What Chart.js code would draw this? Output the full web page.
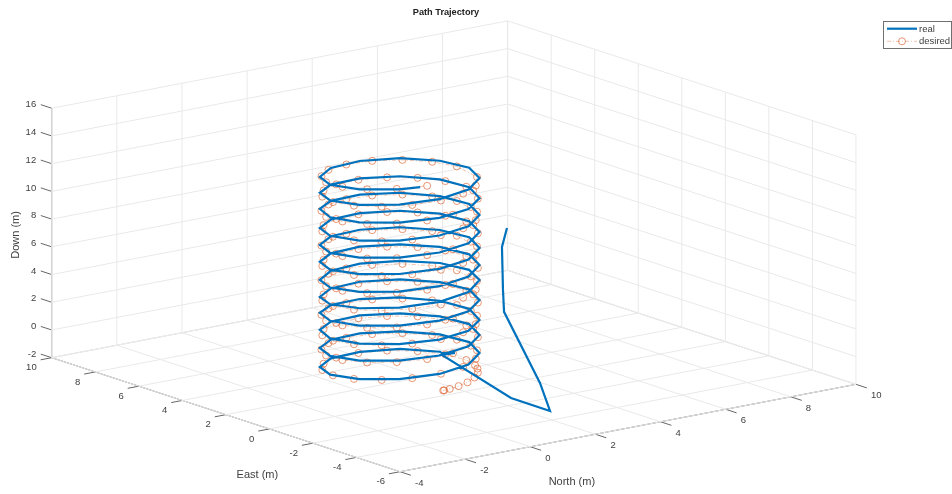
<!DOCTYPE html>
<html>
<head>
<meta charset="utf-8">
<style>html,body{margin:0;padding:0;background:#fff}canvas{display:block}</style>
<script src="https://cdn.jsdelivr.net/npm/chart.js@4/dist/chart.umd.min.js"></script>
</head>
<body>
<canvas id="c" width="952" height="494"></canvas>
<script>
const northTicks = [-4,-2,0,2,4,6,8,10];
const eastTicks = [-6,-4,-2,0,2,4,6,8,10];
const downTicks = [-2,0,2,4,6,8,10,12,14,16];

const realNorth = [1.29,1.136,1.167,1.2,0.966,0.86,0.625,1.014,1.30,1.0,
 1.83,1.14,0.14,-0.89,-1.69,
 -2.04,-1.83,-1.14,-0.14,0.89,1.69, 2.04,1.83,1.14,0.14,-0.89,-1.69,
 -2.04,-1.83,-1.14,-0.14,0.89,1.69, 2.04,1.83,1.14,0.14,-0.89,-1.69,
 -2.04,-1.83,-1.14,-0.14,0.89,1.69, 2.04,1.83,1.14,0.14,-0.89,-1.69,
 -2.04,-1.83,-1.14,-0.14,0.89,1.69, 2.04,1.83,1.14,0.14,-0.89,-1.69,
 -2.04,-1.83,-1.14,-0.14,0.89,1.69, 2.04,1.83,1.14,0.14,-0.89,-1.69,
 -2.04,-1.83,-1.14,-0.14,0.89,1.69, 2.04,1.83,1.14,0.14,-0.89,-1.69,
 -2.04,-1.83,-1.14,-0.14,0.89,1.69, 2.04,1.83,1.14,0.14,-0.89,-1.69,
 -2.04,-1.83,-1.14,-0.14,0.89,1.69, 2.04,1.83,1.14,0.14,-0.89,-1.69,
 -2.04,-1.83,-1.14,-0.14,0.89,1.69, 2.04,1.83,1.14,0.14,-0.89,-1.69,
 -2.04,-1.83,-1.14,-0.14,0.89,1.69, 2.04,1.83,1.14,0.14,-0.89,-1.69,
 -2.04,-1.83,-1.14,-0.14,0.89,1.69, 2.04,1.83,1.14,0.14,-0.89,-1.69,
 -2.04,-1.83,-1.14,-0.66];
const realEast = [-3,-3,-3,-3,-5,-5.62,-4.18,-0.425,-0.59,-0.44,
 0.89,1.69,2.04,1.83,1.14,
 0.14,-0.89,-1.69,-2.04,-1.83,-1.14, -0.14,0.89,1.69,2.04,1.83,1.14,
 0.14,-0.89,-1.69,-2.04,-1.83,-1.14, -0.14,0.89,1.69,2.04,1.83,1.14,
 0.14,-0.89,-1.69,-2.04,-1.83,-1.14, -0.14,0.89,1.69,2.04,1.83,1.14,
 0.14,-0.89,-1.69,-2.04,-1.83,-1.14, -0.14,0.89,1.69,2.04,1.83,1.14,
 0.14,-0.89,-1.69,-2.04,-1.83,-1.14, -0.14,0.89,1.69,2.04,1.83,1.14,
 0.14,-0.89,-1.69,-2.04,-1.83,-1.14, -0.14,0.89,1.69,2.04,1.83,1.14,
 0.14,-0.89,-1.69,-2.04,-1.83,-1.14, -0.14,0.89,1.69,2.04,1.83,1.14,
 0.14,-0.89,-1.69,-2.04,-1.83,-1.14, -0.14,0.89,1.69,2.04,1.83,1.14,
 0.14,-0.89,-1.69,-2.04,-1.83,-1.14, -0.14,0.89,1.69,2.04,1.83,1.14,
 0.14,-0.89,-1.69,-2.04,-1.83,-1.14, -0.14,0.89,1.69,2.04,1.83,1.14,
 0.14,-0.89,-1.69,-2.04,-1.83,-1.14, -0.14,0.89,1.69,2.04,1.83,1.14,
 0.14,-0.89,-1.69,-1.93];
const realDown = [11.66,10.36,7.25,5.65,1.65,0,0.3,1.3,1.4,1.45,
 0.49,0.6,0.65,0.75,0.85,
 0.96,1.07,1.18,1.28,1.39,1.50, 1.62,1.74,1.86,1.98,2.10,2.22,
 2.32,2.41,2.51,2.61,2.70,2.80, 2.92,3.04,3.16,3.28,3.40,3.52,
 3.58,3.64,3.70,3.76,3.82,3.88, 4.02,4.17,4.31,4.46,4.60,4.75,
 4.85,4.94,5.04,5.13,5.23,5.32, 5.42,5.51,5.61,5.71,5.80,5.90,
 6.04,6.19,6.33,6.48,6.62,6.77, 6.83,6.89,6.95,7.01,7.07,7.13,
 7.25,7.37,7.49,7.61,7.73,7.85, 7.95,8.05,8.14,8.24,8.33,8.43,
 8.54,8.65,8.76,8.86,8.97,9.08, 9.18,9.27,9.37,9.46,9.56,9.65,
 9.75,9.84,9.94,10.04,10.13,10.23, 10.34,10.45,10.56,10.66,10.77,10.88,
 10.98,11.07,11.17,11.27,11.36,11.46, 11.59,11.72,11.86,11.99,12.12,12.25,
 12.32,12.39,12.47,12.54,12.61,12.68, 12.80,12.92,13.05,13.17,13.29,13.41,
 13.53,13.65,13.77,13.89,14.01,14.13, 14.20,14.27,14.35,14.42,14.49,14.56,
 14.66,14.76,14.86,14.93];

const desiredNorth = [0,0.03,0.21,0.52,0.88,1.26,1.58,1.78,1.90,
 2.00,1.87,1.46,0.83,0.07,-0.70,-1.36,-1.82,-2.00,-1.87,-1.46,-0.83,-0.07,0.70,1.36,1.82,
 1.97,1.70,1.17,0.46,-0.32,-1.05,-1.62,-1.95,-1.97,-1.70,-1.17,-0.46,0.32,1.05,1.62,1.95,
 2.00,1.87,1.46,0.83,0.07,-0.70,-1.36,-1.82,-2.00,-1.87,-1.46,-0.83,-0.07,0.70,1.36,1.82,
 1.97,1.70,1.17,0.46,-0.32,-1.05,-1.62,-1.95,-1.97,-1.70,-1.17,-0.46,0.32,1.05,1.62,1.95,
 2.00,1.87,1.46,0.83,0.07,-0.70,-1.36,-1.82,-2.00,-1.87,-1.46,-0.83,-0.07,0.70,1.36,1.82,
 1.97,1.70,1.17,0.46,-0.32,-1.05,-1.62,-1.95,-1.97,-1.70,-1.17,-0.46,0.32,1.05,1.62,1.95,
 2.00,1.87,1.46,0.83,0.07,-0.70,-1.36,-1.82,-2.00,-1.87,-1.46,-0.83,-0.07,0.70,1.36,1.82,
 1.97,1.70,1.17,0.46,-0.32,-1.05,-1.62,-1.95,-1.97,-1.70,-1.17,-0.46,0.32,1.05,1.62,1.95,
 2.00,1.87,1.46,0.83,0.07,-0.70,-1.36,-1.82,-2.00,-1.87,-1.46,-0.83,-0.07,0.70,1.36,1.82,
 1.97,1.70,1.17,0.46,-0.32,-1.05,-1.62,-1.95,-1.97,-1.70,-1.17,-0.46,0.32,1.05,1.62,1.95,
 2.00,1.87,1.46,0.83,0.07,-0.70,-1.36,-1.82,-2.00,-1.87,-1.46,-0.83,-0.07,0.70,1.36,1.82,
 1.97,1.70,1.17,0.46,-0.32,-1.05,-1.62,-1.95,-1.97,-1.70,-1.17,-0.46];
const desiredEast = [-2,-2.00,-1.99,-1.93,-1.80,-1.55,-1.23,-0.91,-0.62,
 -0.07,0.70,1.36,1.82,2.00,1.87,1.46,0.83,0.07,-0.70,-1.36,-1.82,-2.00,-1.87,-1.46,-0.83,
 0.32,1.05,1.62,1.95,1.97,1.70,1.17,0.46,-0.32,-1.05,-1.62,-1.95,-1.97,-1.70,-1.17,-0.46,
 -0.07,0.70,1.36,1.82,2.00,1.87,1.46,0.83,0.07,-0.70,-1.36,-1.82,-2.00,-1.87,-1.46,-0.83,
 0.32,1.05,1.62,1.95,1.97,1.70,1.17,0.46,-0.32,-1.05,-1.62,-1.95,-1.97,-1.70,-1.17,-0.46,
 -0.07,0.70,1.36,1.82,2.00,1.87,1.46,0.83,0.07,-0.70,-1.36,-1.82,-2.00,-1.87,-1.46,-0.83,
 0.32,1.05,1.62,1.95,1.97,1.70,1.17,0.46,-0.32,-1.05,-1.62,-1.95,-1.97,-1.70,-1.17,-0.46,
 -0.07,0.70,1.36,1.82,2.00,1.87,1.46,0.83,0.07,-0.70,-1.36,-1.82,-2.00,-1.87,-1.46,-0.83,
 0.32,1.05,1.62,1.95,1.97,1.70,1.17,0.46,-0.32,-1.05,-1.62,-1.95,-1.97,-1.70,-1.17,-0.46,
 -0.07,0.70,1.36,1.82,2.00,1.87,1.46,0.83,0.07,-0.70,-1.36,-1.82,-2.00,-1.87,-1.46,-0.83,
 0.32,1.05,1.62,1.95,1.97,1.70,1.17,0.46,-0.32,-1.05,-1.62,-1.95,-1.97,-1.70,-1.17,-0.46,
 -0.07,0.70,1.36,1.82,2.00,1.87,1.46,0.83,0.07,-0.70,-1.36,-1.82,-2.00,-1.87,-1.46,-0.83,
 0.32,1.05,1.62,1.95,1.97,1.70,1.17,0.46,-0.32,-1.05,-1.62,-1.95];
const desiredDown = [0,0.00,0.02,0.05,0.09,0.14,0.18,0.22,0.25,
 0.31,0.38,0.46,0.54,0.62,0.70,0.77,0.85,0.93,1.01,1.09,1.17,1.24,1.32,1.40,1.48,
 1.59,1.67,1.75,1.83,1.91,1.99,2.06,2.14,2.22,2.30,2.38,2.45,2.53,2.61,2.69,2.77,
 2.81,2.88,2.96,3.04,3.12,3.20,3.27,3.35,3.43,3.51,3.59,3.67,3.74,3.82,3.90,3.98,
 4.09,4.17,4.25,4.33,4.41,4.49,4.56,4.64,4.72,4.80,4.88,4.95,5.03,5.11,5.19,5.27,
 5.31,5.38,5.46,5.54,5.62,5.70,5.77,5.85,5.93,6.01,6.09,6.17,6.24,6.32,6.40,6.48,
 6.59,6.67,6.75,6.83,6.91,6.99,7.06,7.14,7.22,7.30,7.38,7.45,7.53,7.61,7.69,7.77,
 7.81,7.88,7.96,8.04,8.12,8.20,8.27,8.35,8.43,8.51,8.59,8.67,8.74,8.82,8.90,8.98,
 9.09,9.17,9.25,9.33,9.41,9.49,9.56,9.64,9.72,9.80,9.88,9.95,10.03,10.11,10.19,10.27,
 10.31,10.38,10.46,10.54,10.62,10.70,10.77,10.85,10.93,11.01,11.09,11.17,11.24,11.32,11.40,11.48,
 11.59,11.67,11.75,11.83,11.91,11.99,12.06,12.14,12.22,12.30,12.38,12.45,12.53,12.61,12.69,12.77,
 12.81,12.88,12.96,13.04,13.12,13.20,13.27,13.35,13.43,13.51,13.59,13.67,13.74,13.82,13.90,13.98,
 14.09,14.17,14.25,14.33,14.41,14.49,14.56,14.64,14.72,14.80,14.88,14.95];

const titleText = "Path Trajectory";
const legendLabels = ["real","desired"];
const FONT = '"Liberation Sans", Arial, sans-serif';
const BLUE = "#0072BD";
const ORANGE = "rgba(217,83,25,0.75)";

// fixed MATLAB-style orthographic view of (north, east, down)
function project(n, e, d) {
  return {
    x: 400 + 32.57 * (n + 4) - 21.77 * (e + 6),
    y: 471.7 - 6.24 * (n + 4) - 7.125 * (e + 6) - 13.86 * (d + 2)
  };
}
const NMIN = northTicks[0], NMAX = northTicks[northTicks.length-1];
const EMIN = eastTicks[0], EMAX = eastTicks[eastTicks.length-1];
const DMIN = downTicks[0], DMAX = downTicks[downTicks.length-1];

function seg(a, b, color, width) {
  return { data:[project(...a), project(...b)], borderColor:color, borderWidth:width,
    pointRadius:0, showLine:true, fill:false, clip:false, order:5, tension:0 };
}
const GRID = "#e9e9e9", EDGE = "#d6d6d6", AXIS = "#666666";
const sets = [];
northTicks.forEach(n => {
  sets.push(seg([n,EMIN,DMIN],[n,EMAX,DMIN],GRID,1));
  sets.push(seg([n,EMAX,DMIN],[n,EMAX,DMAX],GRID,1));
});
eastTicks.forEach(e => {
  sets.push(seg([NMIN,e,DMIN],[NMAX,e,DMIN],GRID,1));
  sets.push(seg([NMAX,e,DMIN],[NMAX,e,DMAX],GRID,1));
});
downTicks.forEach(d => {
  sets.push(seg([NMIN,EMAX,d],[NMAX,EMAX,d],GRID,1));
  sets.push(seg([NMAX,EMAX,d],[NMAX,EMIN,d],GRID,1));
});
sets.push(seg([NMIN,EMAX,DMIN],[NMAX,EMAX,DMIN],EDGE,1));
sets.push(seg([NMAX,EMAX,DMIN],[NMAX,EMIN,DMIN],EDGE,1));
// axes and tick marks
sets.push(seg([NMIN,EMAX,DMIN],[NMIN,EMAX,DMAX],AXIS,1));
sets.push(seg([NMIN,EMIN,DMIN],[NMIN,EMAX,DMIN],AXIS,1));
sets.push(seg([NMIN,EMIN,DMIN],[NMAX,EMIN,DMIN],AXIS,1));
downTicks.forEach(d => sets.push(seg([NMIN,EMAX,d],[NMIN,EMAX+0.5,d],AXIS,1)));
eastTicks.forEach(e => sets.push(seg([NMIN,e,DMIN],[NMIN-0.34,e,DMIN],AXIS,1)));
northTicks.forEach(n => sets.push(seg([n,EMIN,DMIN],[n,EMIN-0.5,DMIN],AXIS,1)));

sets.push({ label:legendLabels[1],
  data: desiredNorth.map((n,i)=>project(n,desiredEast[i],desiredDown[i])),
  borderColor:"rgba(217,83,25,0.5)", borderWidth:0.7, borderDash:[4,2,1,2],
  pointRadius:3.5, pointBorderWidth:0.8, pointBorderColor:ORANGE, pointBackgroundColor:"rgba(0,0,0,0)",
  showLine:true, fill:false, clip:false, order:2, tension:0 });
sets.push({ label:legendLabels[0],
  data: realNorth.map((n,i)=>project(n,realEast[i],realDown[i])),
  borderColor:BLUE, borderWidth:2.2, pointRadius:0, showLine:true, fill:false, clip:false, order:1, tension:0 });

const annotate = {
  id:"annotate",
  afterDraw(chart){
    const c = chart.ctx, sx = chart.scales.x, sy = chart.scales.y;
    const at = (n,e,d) => { const p = project(n,e,d); return [sx.getPixelForValue(p.x), sy.getPixelForValue(p.y)]; };
    c.save();
    c.fillStyle = "#404040";
    c.font = "9.5px " + FONT;
    c.textBaseline = "middle";
    c.textAlign = "right";
    downTicks.forEach(d => { const [x,y] = at(NMIN,EMAX,d); c.fillText(String(d), x-15.5, y-3.5); });
    eastTicks.forEach(e => { const [x,y] = at(NMIN,e,DMIN); c.fillText(String(e), x-15, y+10); });
    c.textAlign = "left";
    northTicks.forEach(n => { const [x,y] = at(n,EMIN,DMIN); c.fillText(String(n), x+15, y+11.5); });
    c.font = "11px " + FONT;
    c.textAlign = "center";
    const [ex,ey] = at(NMIN,0,DMIN); c.fillText("East (m)", ex-12, ey+46);
    const [nx,ny] = at(1,EMIN,DMIN); c.fillText("North (m)", nx+9, ny+41.5);
    const [dx,dy] = at(NMIN,EMAX,7);
    c.save(); c.translate(dx-36, dy+2); c.rotate(-Math.PI/2); c.fillText("Down (m)", 0, 0); c.restore();
    // legend
    c.fillStyle = "#fff"; c.strokeStyle = "#707070"; c.lineWidth = 1;
    c.fillRect(883.5,21.5,68,27); c.strokeRect(883.5,21.5,68,27);
    c.strokeStyle = BLUE; c.lineWidth = 2.2;
    c.beginPath(); c.moveTo(887,28.7); c.lineTo(917,28.7); c.stroke();
    c.strokeStyle = "rgba(217,83,25,0.5)"; c.lineWidth = 0.7; c.setLineDash([4,2,1,2]);
    c.beginPath(); c.moveTo(887,41.3); c.lineTo(917,41.3); c.stroke(); c.setLineDash([]);
    c.strokeStyle = ORANGE; c.lineWidth = 0.8;
    c.beginPath(); c.arc(902,41.3,3.5,0,Math.PI*2); c.stroke();
    c.fillStyle = "#404040"; c.font = "9.5px " + FONT; c.textAlign = "left";
    c.fillText(legendLabels[0], 919, 29.5);
    c.fillText(legendLabels[1], 919, 41.8);
    c.restore();
  }
};

new Chart(document.getElementById("c"), {
  type:"scatter",
  data:{ datasets:sets },
  plugins:[annotate],
  options:{
    responsive:false, animation:false, devicePixelRatio:1,
    layout:{ autoPadding:false, padding:{ left:0, right:60, top:0, bottom:0 } },
    plugins:{
      legend:{ display:false }, tooltip:{ enabled:false },
      title:{ display:true, text:titleText, color:"#222",
        font:{ family:FONT, size:9.2, weight:"bold", lineHeight:1.2 }, padding:{ top:7, bottom:3.96 } }
    },
    scales:{
      x:{ type:"linear", display:false, min:0, max:892 },
      y:{ type:"linear", display:false, min:22, max:494, reverse:true }
    }
  }
});
</script>
</body>
</html>
